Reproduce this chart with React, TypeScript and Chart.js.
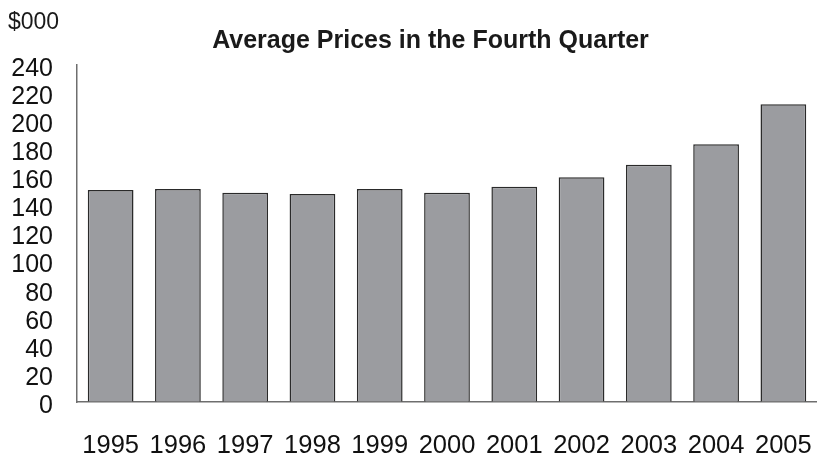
import React, { useEffect, useRef } from "react";
import { Chart, registerables } from "chart.js";

Chart.register(...registerables);

const years = ["1995", "1996", "1997", "1998", "1999", "2000", "2001", "2002", "2003", "2004", "2005"];
const prices = [151, 151.7, 149.1, 148.2, 151.7, 149.1, 153.3, 160, 169, 183.5, 212];
const titleText = "Average Prices in the Fourth Quarter";
const unitText = "$000";

const FONT = "'Liberation Sans', Arial, sans-serif";

const textPlugin = {
  id: "customText",
  afterDraw(chart: any) {
    const ctx = chart.ctx;
    ctx.save();
    ctx.fillStyle = "#1a1a1a";
    ctx.textBaseline = "alphabetic";
    ctx.font = `bold 25px ${FONT}`;
    ctx.textAlign = "center";
    ctx.fillText(titleText, 430.5, 48);
    ctx.font = `23px ${FONT}`;
    ctx.textAlign = "left";
    ctx.fillText(unitText, 8, 29);
    ctx.restore();
  },
};

export default function App() {
  const ref = useRef<HTMLCanvasElement | null>(null);
  useEffect(() => {
    if (!ref.current) return;
    const chart = new Chart(ref.current, {
      type: "bar",
      data: {
        labels: years,
        datasets: [
          {
            data: prices,
            backgroundColor: "#9b9ca0",
            borderColor: "#2a2a2a",
            borderWidth: 1.5,
            barPercentage: 0.68,
            categoryPercentage: 1,
          },
        ],
      },
      options: {
        responsive: false,
        animation: false,
        layout: { padding: { top: 65, right: -3, bottom: 0, left: 0 } },
        plugins: { legend: { display: false }, title: { display: false }, tooltip: { enabled: false } },
        scales: {
          x: {
            afterFit: (s: any) => { s.height = 52; },
            grid: { display: true, drawOnChartArea: false, drawTicks: true, tickLength: 31, tickColor: "rgba(0,0,0,0)" },
            border: { display: true, color: "#6e6e6e", width: 1.5 },
            ticks: { color: "#111", font: { family: FONT, size: 25.5, lineHeight: 1 }, padding: 0, maxRotation: 0, autoSkip: false },
          },
          y: {
            min: 0,
            max: 240,
            afterFit: (s: any) => { s.width = 77; },
            grid: { display: true, drawOnChartArea: false, drawTicks: true, tickLength: 24, tickColor: "rgba(0,0,0,0)" },
            border: { display: true, color: "#6e6e6e", width: 1.5 },
            ticks: { stepSize: 20, autoSkip: false, color: "#111", font: { family: FONT, size: 25, lineHeight: 1 }, padding: 0, labelOffset: 4 },
          },
        },
      },
      plugins: [textPlugin],
    });
    return () => chart.destroy();
  }, []);
  return (
    <div style={{ position: "absolute", left: 0, top: 0, width: 817, height: 454, background: "#fff" }}>
      <canvas ref={ref} width={817} height={454} style={{ display: "block" }} />
    </div>
  );
}
